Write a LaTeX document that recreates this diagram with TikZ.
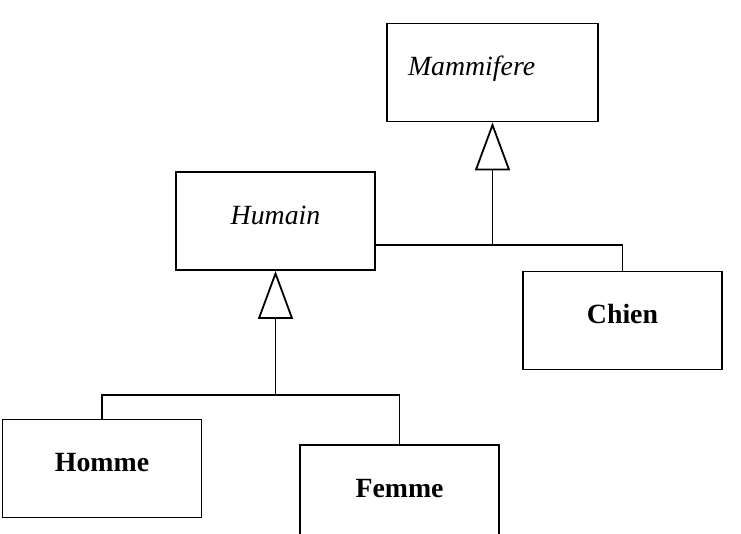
\documentclass[tikz,border=0pt]{standalone}
\usepackage{fontspec}
\setmainfont{Liberation Serif}
\usetikzlibrary{arrows.meta}

\begin{document}
\begin{tikzpicture}[
        x=1pt, y=-1pt,
        classe/.style={rectangle, draw, line width=1.8pt, minimum width=199pt, minimum height=98pt,
            text height=18pt, text depth=12pt},
        concrete/.style={classe, font=\fontsize{27.8}{33}\selectfont\bfseries},
        abstract/.style={classe, font=\fontsize{27.8}{33}\selectfont\itshape},
        lien/.style={draw, line width=1.8pt},
        herite/.style={lien, -{Triangle[open, length=48pt, width=35pt]}}
    ]
    \clip (0,0) rectangle (741,533);
    % classes
    \node[abstract, minimum width=211pt, text width=169pt, align=left] (mammifere) at (492.5,72.5) {Mammifere};
    \node[abstract] (humain) at (275.5,221) {Humain};
    \node[concrete] (chien) at (622.5,320.5) {Chien};
    \node[concrete] (homme) at (102,468.5) {Homme};
    \node[concrete] (femme) at (399.5,494) {Femme};
    % heritage
    \coordinate (jm) at (492.5,245);
    \coordinate (jh) at (275.5,395);
    \draw[herite] (jm) -- (mammifere.south);
    \draw[lien] (humain.east |- jm) -- (jm) -| (chien.north);
    \draw[herite] (jh) -- (humain.south);
    \draw[lien] (homme.north) |- (jh) -| (femme.north);
\end{tikzpicture}
\end{document}
